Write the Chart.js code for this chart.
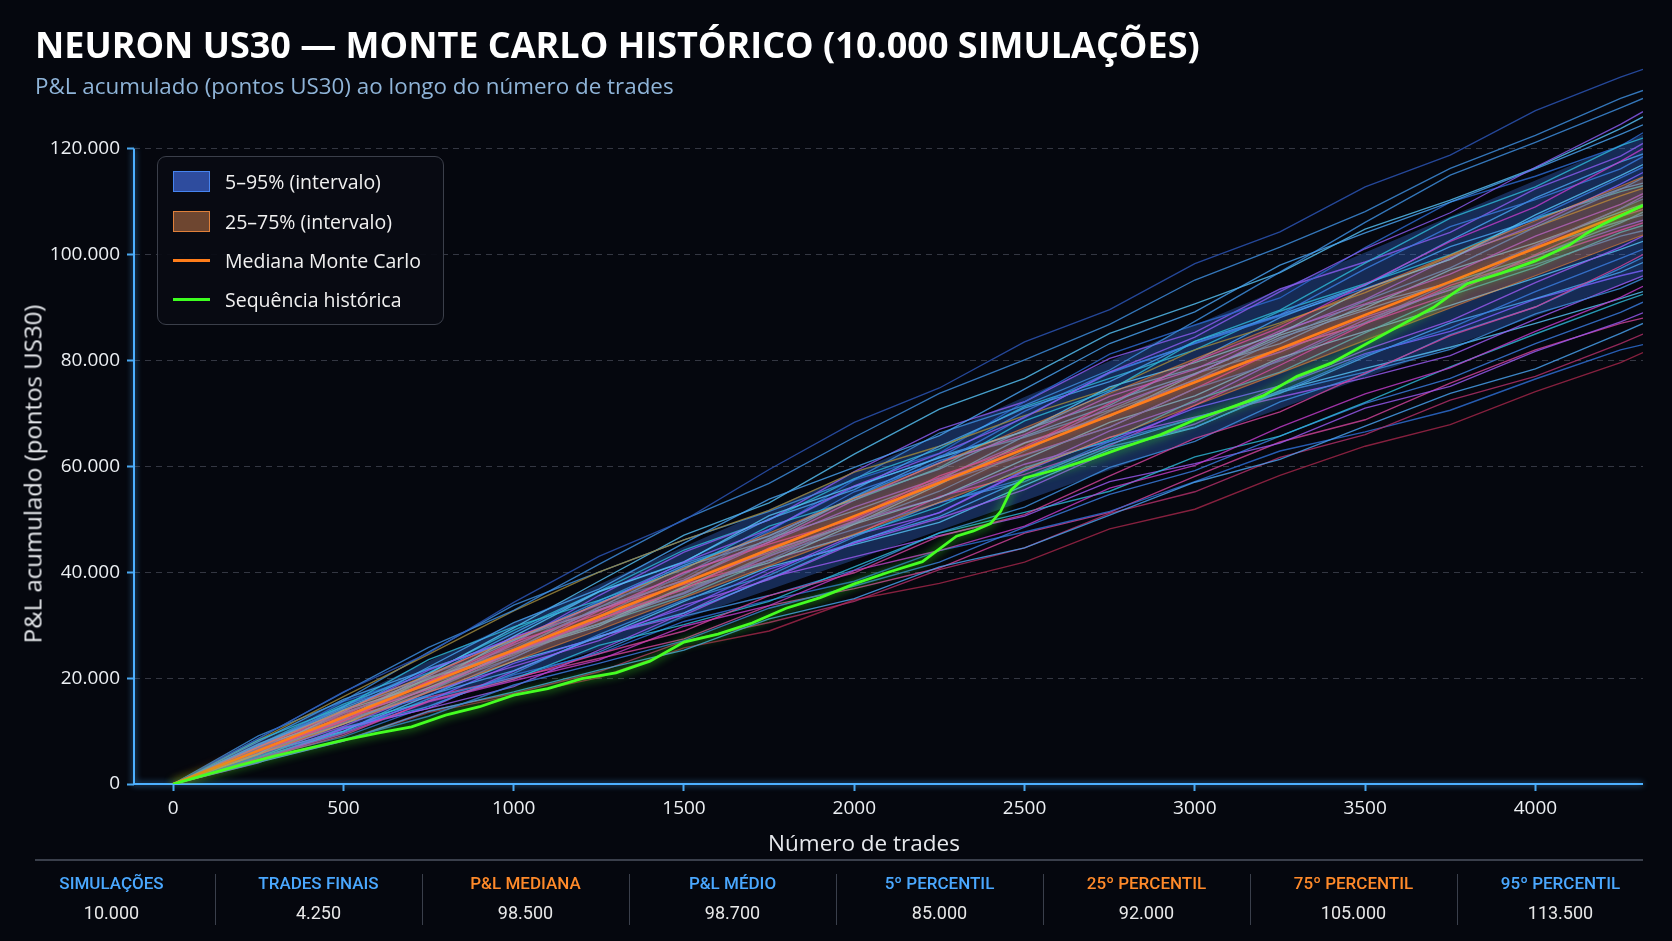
<!DOCTYPE html>
<html lang="pt-BR">
<head>
<meta charset="utf-8">
<title>Neuron US30 — Monte Carlo histórico</title>
<script src="https://cdn.jsdelivr.net/npm/chart.js@4.4.1/dist/chart.umd.min.js"></script>
<style>
  html, body { margin: 0; padding: 0; background: #05070e; }
  #wrap { position: relative; width: 1672px; height: 941px; overflow: hidden; background: #05070e;
          font-family: 'Open Sans', 'Noto Sans', sans-serif; }
  #chart { position: absolute; left: 0; top: 0; }
  #title { position: absolute; left: 35px; top: 23px; font-size: 36px; font-weight: 700; color: #fff;
           line-height: 44px; white-space: nowrap; }
  #subtitle { position: absolute; left: 35px; top: 71px; font-size: 22.4px; color: #8fb4d8; line-height: 30px; white-space: nowrap; }
  #ytitle { position: absolute; left: 32px; top: 474px; transform: translate(-50%, -50%) rotate(-90deg);
            font-size: 24px; color: #e6e8ec; white-space: nowrap; }
  #xtitle { position: absolute; left: 864px; top: 842px; transform: translate(-50%, -50%);
            font-size: 22.5px; color: #e6e8ec; white-space: nowrap; }
  #legend { position: absolute; left: 157px; top: 156px; width: 287px; height: 169px; box-sizing: border-box;
            border: 1px solid #3b3f4a; border-radius: 9px; background: rgba(9, 11, 19, 0.94); }
  .li { position: absolute; left: 15px; height: 22px; display: flex; align-items: center; font-size: 19.5px; color: #f0f0f0; white-space: nowrap; }
  .sw { width: 37px; height: 21px; box-sizing: border-box; margin-right: 15px; flex: none; }
  .ln { width: 37px; height: 3px; margin-right: 15px; flex: none; }
  #sep { position: absolute; left: 35px; top: 859px; width: 1608px; height: 2px; background: #3a3f4b; }
  .col { position: absolute; top: 868px; width: 207px; text-align: center; font-family: Roboto, 'Open Sans', sans-serif; }
  .lab { font-size: 17px; font-weight: 500; line-height: 30px; }
  .val { font-size: 18px; color: #e8e8e8; line-height: 30px; }
  .div { position: absolute; top: 874px; height: 51px; width: 1px; background: #3a3f4b; }
</style>
</head>
<body>
<div id="wrap">
  <canvas id="chart" width="1672" height="941"></canvas>
  <div id="title">NEURON US30 — MONTE CARLO HISTÓRICO (10.000 SIMULAÇÕES)</div>
  <div id="subtitle">P&amp;L acumulado (pontos US30) ao longo do número de trades</div>
  <div id="ytitle">P&amp;L acumulado (pontos US30)</div>
  <div id="xtitle">Número de trades</div>
  <div id="legend"></div>
  <div id="sep"></div>
  <div id="stats"></div>
</div>
<script>
// valores em milhares de pontos (k)
const trades = [0, 250, 500, 750, 1000, 1250, 1500, 1750, 2000, 2250, 2500, 2750, 3000, 3250, 3500, 3750, 4000, 4250, 4316];
const xTicks = [0, 500, 1000, 1500, 2000, 2500, 3000, 3500, 4000];
const yTicks = [0, 20000, 40000, 60000, 80000, 100000, 120000];

const mediana = [0, 6.3, 12.6, 19.0, 25.3, 31.6, 38.0, 44.3, 50.6, 56.9, 63.3, 69.6, 75.9, 82.2, 88.6, 94.9, 101.2, 107.5, 109.2];
const p25 = [0, 5.6, 11.3, 17.3, 23.2, 29.1, 35.2, 41.2, 47.2, 53.2, 59.3, 65.4, 71.5, 77.6, 83.8, 89.9, 96.0, 102.1, 103.7];
const p75 = [0, 7.0, 13.9, 20.7, 27.4, 34.1, 40.8, 47.4, 54.0, 60.6, 67.3, 73.8, 80.3, 86.8, 93.4, 99.9, 106.4, 112.9, 114.7];
const p05 = [0, 4.5, 9.4, 14.8, 20.2, 25.5, 31.2, 36.7, 42.3, 47.9, 53.5, 59.3, 65.1, 70.9, 76.8, 82.6, 88.4, 94.2, 95.7];
const p95 = [0, 8.1, 15.8, 23.2, 30.4, 37.7, 44.8, 51.9, 58.9, 65.9, 73.1, 79.9, 86.7, 93.5, 100.4, 107.2, 114.0, 120.8, 122.7];

const histTrades = [0, 100, 200, 300, 400, 500, 600, 700, 800, 900, 1000, 1100, 1200, 1300, 1400, 1500, 1600, 1700, 1800, 1900,
  2000, 2100, 2200, 2300, 2350, 2400, 2430, 2460, 2500, 2600, 2700, 2800, 2900, 3000, 3100, 3200, 3300, 3400, 3500, 3600,
  3700, 3750, 3800, 3900, 4000, 4100, 4150, 4200, 4316];
const historico = [0, 1.8, 3.6, 5.3, 6.8, 8.3, 9.6, 10.8, 13.0, 14.6, 16.8, 18.0, 19.9, 21.0, 23.2, 26.8, 28.3, 30.4, 33.2, 35.2,
  37.8, 40.0, 42.0, 46.8, 47.8, 49.2, 51.5, 55.5, 57.8, 59.5, 61.5, 63.8, 66.0, 68.8, 71.0, 73.3, 77.0, 79.5, 83.0, 86.5,
  90.0, 92.3, 94.5, 96.5, 98.8, 101.8, 104.0, 105.8, 109.3];

// amostra de trajetórias simuladas (mesmos pontos de "trades")
const mcPaths = [
  [0, 8.6, 17.4, 24.7, 34.3, 43.0, 49.8, 59.4, 68.3, 74.8, 83.5, 89.6, 98.3, 104.3, 112.8, 118.8, 127.2, 133.5, 135],
  [0, 8.6, 17.3, 25.8, 32.8, 41.5, 50.0, 56.8, 65.5, 73.8, 80.1, 86.8, 95.2, 101.4, 108.1, 116.3, 122.5, 129.5, 131],
  [0, 7.0, 13.6, 21.5, 27.6, 33.9, 41.9, 48.1, 56.3, 62.4, 69.2, 77.8, 84.4, 93.0, 101.1, 107.9, 116.5, 124.6, 127],
  [0, 7.6, 13.6, 22.1, 30.5, 36.8, 45.5, 53.8, 59.8, 65.8, 74.6, 83.2, 89.2, 98.0, 104.1, 109.9, 116.2, 122.7, 124.5],
  [0, 8.3, 14.6, 23.5, 29.7, 34.7, 40.6, 48.7, 53.6, 59.7, 68.6, 74.4, 83.6, 89.5, 98.4, 106.9, 112.8, 120.6, 122],
  [0, 6.1, 11.9, 19.5, 25.0, 31.1, 36.8, 44.6, 50.3, 58.2, 63.7, 71.9, 79.9, 86.2, 94.4, 102.5, 109.0, 117.6, 120],
  [0, 6.6, 14.8, 20.1, 25.4, 33.4, 38.3, 46.3, 55.2, 60.6, 69.4, 77.6, 83.3, 88.6, 97.3, 105.3, 110.4, 116.2, 118.5],
  [0, 5.7, 13.9, 18.9, 27.9, 36.3, 41.9, 50.7, 56.2, 61.6, 66.6, 75.0, 79.6, 85.1, 93.5, 99.1, 107.5, 114.9, 117],
  [0, 6.2, 12.2, 19.3, 24.8, 30.9, 38.2, 43.7, 49.7, 57.3, 63.4, 71.2, 77.3, 85.2, 91.5, 99.4, 105.6, 113.3, 115.5],
  [0, 5.8, 11.6, 17.5, 24.6, 30.3, 36.2, 43.4, 49.3, 55.3, 62.9, 70.4, 76.3, 84.0, 91.3, 97.5, 105.2, 112.3, 114.5],
  [0, 7.1, 14.4, 20.4, 28.5, 36.4, 42.0, 50.1, 55.6, 63.8, 71.0, 76.0, 83.6, 88.6, 94.3, 101.5, 106.6, 112.4, 113.5],
  [0, 8.3, 16.5, 24.5, 32.7, 40.0, 46.1, 51.7, 58.9, 63.8, 69.6, 74.7, 82.0, 87.1, 92.8, 99.7, 105.2, 111.1, 112.5],
  [0, 5.7, 12.6, 17.9, 24.9, 32.7, 39.9, 45.7, 53.6, 60.7, 66.0, 73.2, 78.3, 85.6, 90.7, 96.3, 103.5, 109.5, 111.5],
  [0, 6.1, 13.4, 18.8, 24.3, 31.5, 36.7, 42.3, 49.6, 56.9, 62.1, 67.4, 74.7, 79.9, 87.2, 94.7, 101.8, 108.7, 110.5],
  [0, 7.1, 12.5, 20.1, 24.8, 29.8, 37.1, 41.8, 49.1, 56.6, 64.4, 69.4, 77.4, 84.8, 89.9, 97.1, 102.2, 108.0, 109.5],
  [0, 6.5, 11.8, 19.3, 26.8, 32.1, 40.0, 45.3, 50.1, 57.6, 62.2, 67.4, 74.7, 82.2, 87.0, 92.5, 100.0, 107.2, 108.5],
  [0, 6.9, 14.1, 19.8, 27.1, 34.1, 41.3, 46.9, 54.0, 59.5, 66.9, 72.2, 77.5, 84.3, 89.5, 94.8, 101.4, 106.3, 107.5],
  [0, 6.6, 13.3, 19.1, 26.3, 32.9, 38.5, 45.7, 52.3, 57.8, 64.5, 69.7, 76.4, 81.6, 88.2, 93.3, 99.8, 105.2, 106.5],
  [0, 6.9, 12.5, 19.8, 25.3, 30.2, 35.5, 42.3, 47.0, 52.4, 59.7, 65.0, 72.5, 77.8, 85.2, 92.3, 97.6, 104.2, 105.5],
  [0, 7.3, 14.6, 21.8, 27.1, 34.6, 41.7, 46.8, 54.2, 61.1, 65.5, 70.6, 77.5, 82.1, 87.0, 93.8, 98.1, 103.5, 104.5],
  [0, 5.6, 10.9, 17.4, 22.2, 27.1, 33.8, 38.6, 45.5, 50.2, 55.6, 62.8, 68.0, 75.3, 82.0, 87.5, 94.7, 101.4, 103.5],
  [0, 6.2, 11.3, 18.2, 25.0, 30.2, 37.3, 44.1, 49.1, 54.1, 61.3, 68.3, 73.3, 80.5, 85.5, 90.4, 95.6, 101.0, 102.5],
  [0, 5.2, 11.9, 16.7, 23.9, 30.9, 35.9, 43.2, 48.1, 53.1, 57.7, 64.7, 69.1, 74.1, 81.0, 86.1, 93.0, 99.3, 101],
  [0, 4.7, 9.2, 15.7, 19.8, 24.6, 28.9, 35.6, 39.9, 46.8, 50.9, 58.2, 65.3, 70.3, 77.6, 84.7, 90.1, 97.8, 100],
  [0, 5.5, 12.1, 16.8, 21.4, 27.9, 32.3, 38.8, 45.8, 50.5, 57.6, 64.2, 69.1, 73.8, 80.7, 87.1, 91.7, 96.7, 98.5],
  [0, 6.2, 12.6, 17.9, 24.9, 31.2, 36.0, 43.0, 49.5, 54.1, 60.4, 64.7, 71.0, 75.2, 81.3, 85.5, 91.6, 96.0, 97],
  [0, 4.5, 10.7, 14.6, 20.9, 28.2, 34.8, 39.4, 46.7, 53.2, 57.1, 63.7, 67.4, 74.0, 77.8, 82.1, 88.8, 93.6, 95.5],
  [0, 4.9, 9.5, 15.5, 19.5, 23.4, 29.8, 33.7, 40.3, 44.1, 48.7, 55.9, 60.2, 67.4, 73.7, 78.6, 85.5, 91.9, 94],
  [0, 5.0, 11.4, 15.6, 19.8, 26.2, 30.1, 34.5, 41.0, 47.4, 51.3, 55.3, 61.8, 65.7, 72.1, 78.8, 85.0, 91.0, 92.5],
  [0, 4.3, 8.4, 12.8, 18.7, 22.8, 27.1, 33.2, 37.4, 41.9, 48.5, 54.7, 59.2, 65.7, 71.9, 76.6, 83.2, 89.1, 91],
  [0, 4.3, 10.6, 14.3, 21.3, 27.9, 31.9, 39.0, 42.9, 46.9, 50.6, 57.1, 60.5, 64.4, 71.0, 75.1, 81.7, 87.3, 89],
  [0, 4.1, 8.1, 13.7, 17.4, 21.5, 25.3, 31.2, 35.0, 41.0, 44.6, 50.8, 57.0, 61.3, 67.6, 73.8, 78.4, 85.1, 87],
  [0, 4.2, 8.2, 13.8, 17.1, 21.2, 27.0, 30.5, 34.5, 40.5, 44.6, 51.1, 55.2, 61.7, 66.0, 72.5, 77.0, 83.2, 85],
  [0, 5.0, 8.9, 14.7, 20.6, 24.6, 30.7, 34.7, 38.3, 44.1, 47.6, 51.5, 57.1, 62.9, 66.5, 70.6, 76.5, 82.0, 83],
  [0, 4.2, 8.1, 13.5, 16.7, 20.1, 25.7, 28.9, 34.8, 37.9, 41.9, 48.2, 51.9, 58.3, 63.8, 67.9, 74.1, 79.6, 81.5],
  [0, 9.1, 15.7, 24.9, 33.8, 40.0, 46.1, 51.5, 57.5, 66.3, 71.5, 78.2, 87.4, 96.7, 106.1, 115.0, 121.2, 127.7, 129.5],
  [0, 6.1, 12.2, 20.8, 29.5, 38.3, 47.0, 53.1, 62.3, 70.8, 76.6, 85.1, 90.7, 96.6, 104.8, 110.3, 116.4, 123.8, 126],
  [0, 6.7, 15.6, 20.8, 25.7, 34.4, 38.9, 47.7, 57.4, 62.5, 72.2, 81.2, 86.7, 91.8, 101.3, 109.9, 114.8, 120.5, 123],
  [0, 5.8, 13.5, 18.7, 26.6, 35.6, 43.8, 49.9, 59.0, 67.0, 72.2, 80.4, 85.3, 93.5, 98.6, 104.2, 112.4, 118.6, 121],
  [0, 8.0, 16.0, 21.7, 27.3, 32.9, 38.5, 46.4, 51.6, 57.4, 65.7, 71.5, 79.9, 88.1, 94.2, 102.7, 110.7, 117.5, 119],
  [0, 5.4, 12.9, 18.2, 23.8, 31.6, 39.6, 48.0, 56.1, 61.7, 70.4, 77.8, 83.2, 88.4, 93.6, 99.1, 107.0, 114.5, 116.5],
  [0, 7.4, 15.1, 21.0, 29.0, 36.4, 44.2, 49.9, 57.7, 63.3, 71.3, 76.6, 82.0, 89.3, 94.5, 100.0, 106.9, 111.9, 113],
  [0, 5.2, 10.4, 15.7, 22.8, 27.8, 33.2, 40.6, 45.6, 51.3, 59.3, 66.7, 72.2, 80.2, 87.7, 93.4, 101.6, 108.7, 111],
  [0, 5.0, 9.9, 17.6, 25.3, 33.3, 41.0, 46.0, 54.3, 61.9, 66.6, 74.1, 78.5, 83.2, 90.5, 94.7, 99.7, 106.0, 108],
  [0, 7.4, 12.9, 20.4, 27.8, 32.8, 37.7, 42.2, 47.0, 54.3, 58.5, 63.9, 71.5, 79.1, 86.9, 94.2, 99.2, 104.6, 106],
  [0, 5.0, 9.7, 16.1, 20.1, 24.9, 31.7, 35.6, 40.4, 47.5, 52.3, 59.8, 64.7, 72.2, 77.4, 84.9, 90.1, 97.4, 99.5],
  [0, 4.0, 10.4, 14.3, 18.4, 25.3, 32.3, 39.9, 47.0, 51.2, 59.1, 65.5, 69.3, 73.1, 76.7, 80.9, 87.8, 94.3, 96],
  [0, 5.8, 10.0, 16.7, 23.2, 27.6, 34.5, 41.0, 45.2, 49.4, 56.4, 63.2, 67.3, 74.3, 78.5, 82.5, 87.0, 91.7, 93],
  [0, 6.3, 12.6, 16.4, 20.1, 23.7, 27.4, 33.7, 36.9, 40.8, 47.4, 51.3, 58.1, 64.6, 68.8, 75.7, 82.0, 87.0, 88]
];
const pathColors = ['#2c56b8', '#3f8fe0', '#8a5cf0', '#4aa3f0', '#2fb8d8', '#c13cc9', '#3b7de0', '#56c2f5', '#7b61ff',
  '#3f8fe0', '#4aa3f0', '#a08a3c', '#9b59f0', '#3b7de0', '#56c2f5', '#c13cc9', '#4aa3f0', '#7b61ff', '#2fb8d8',
  '#3f8fe0', '#9b59f0', '#56c2f5', '#3b7de0', '#d2449a', '#4aa3f0', '#7b61ff', '#3f8fe0', '#c13cc9', '#2fb8d8',
  '#3b7de0', '#9b59f0', '#4aa3f0', '#b3306a', '#2f6fd6', '#a3264a',
  '#3f8fe0', '#56c2f5', '#2c6bd0', '#8a5cf0', '#4aa3f0', '#3b7de0', '#2fb8d8', '#7b61ff', '#4aa3f0', '#c13cc9',
  '#3f8fe0', '#9b59f0', '#56c2f5', '#d2449a'];

const statLabels = ['SIMULAÇÕES', 'TRADES FINAIS', 'P&L MEDIANA', 'P&L MÉDIO', '5º PERCENTIL', '25º PERCENTIL', '75º PERCENTIL', '95º PERCENTIL'];
const statValues = ['10.000', '4.250', '98.500', '98.700', '85.000', '92.000', '105.000', '113.500'];
const statTone = ['blue', 'blue', 'orange', 'blue', 'blue', 'orange', 'orange', 'blue'];

const K = 1000;
function pts(xs, ys) { return xs.map((x, i) => ({ x: x, y: ys[i] * K })); }
function fmt(v) { return String(v).replace(/\B(?=(\d{3})+(?!\d))/g, '.'); }

Chart.defaults.font.family = "'Open Sans', 'Noto Sans', sans-serif";

const datasets = [];
datasets.push({ label: 'Sequência histórica', data: pts(histTrades, historico), borderColor: '#45ff22', borderWidth: 2.8,
  glow: 'rgba(60,255,30,0.9)', order: 0 });
datasets.push({ label: 'Mediana Monte Carlo', data: pts(trades, mediana), borderColor: '#ff7d1a', borderWidth: 2.6,
  glow: 'rgba(255,110,0,0.9)', order: 1 });
datasets.push({ label: 'p25', data: pts(trades, p25), borderColor: 'rgba(255,140,50,0.55)', borderWidth: 1.2, order: 2 });
datasets.push({ label: '25–75% (intervalo)', data: pts(trades, p75), borderColor: 'rgba(255,140,50,0.55)', borderWidth: 1.2,
  fill: '-1', backgroundColor: 'rgba(255,130,50,0.27)', order: 2 });
mcPaths.forEach((p, i) => datasets.push({ label: 'sim' + i, data: pts(trades, p), borderColor: pathColors[i] + 'd0',
  borderWidth: 1.35, order: 3 }));
datasets.push({ label: 'p05', data: pts(trades, p05), borderWidth: 0, borderColor: 'rgba(0,0,0,0)', order: 4 });
datasets.push({ label: '5–95% (intervalo)', data: pts(trades, p95), borderWidth: 0, borderColor: 'rgba(0,0,0,0)',
  fill: '-1', backgroundColor: 'rgba(60,120,235,0.32)', order: 4 });

const glow = {
  id: 'glow',
  beforeDatasetDraw(chart, args) {
    const ds = chart.data.datasets[args.index];
    if (!ds.glow) return;
    chart.ctx.save();
    chart.ctx.shadowColor = ds.glow;
    chart.ctx.shadowBlur = 10;
  },
  afterDatasetDraw(chart, args) {
    if (chart.data.datasets[args.index].glow) chart.ctx.restore();
  }
};

const axisLines = {
  id: 'axisLines',
  beforeDatasetsDraw(chart) {
    const { ctx, chartArea: a, scales: { y } } = chart;
    ctx.save();
    ctx.strokeStyle = '#4db0ff';
    ctx.lineWidth = 2;
    ctx.shadowColor = 'rgba(77,176,255,0.8)';
    ctx.shadowBlur = 6;
    ctx.beginPath();
    ctx.moveTo(a.left, y.getPixelForValue(yTicks[yTicks.length - 1]));
    ctx.lineTo(a.left, a.bottom);
    ctx.lineTo(a.right, a.bottom);
    ctx.stroke();
    ctx.restore();
  }
};

new Chart(document.getElementById('chart'), {
  type: 'line',
  data: { datasets: datasets },
  plugins: [glow, axisLines],
  options: {
    responsive: false,
    animation: false,
    events: [],
    layout: { padding: { left: 0, right: 29, top: 64, bottom: 82 } },
    plugins: { legend: { display: false }, tooltip: { enabled: false } },
    elements: { point: { radius: 0 }, line: { tension: 0 } },
    scales: {
      x: {
        type: 'linear', min: -115, max: 4316,
        afterBuildTicks: s => { s.ticks = xTicks.map(v => ({ value: v })); },
        afterFit: s => { s.height = 75; },
        grid: { drawOnChartArea: false, drawTicks: true, tickLength: 7, tickColor: '#4aa8f0', tickWidth: 2 },
        border: { display: false },
        ticks: { color: '#eceff3', font: { size: 19 }, padding: 6, maxRotation: 0, autoSkip: false, callback: v => String(v) }
      },
      y: {
        type: 'linear', min: 0, max: 136000,
        afterBuildTicks: s => { s.ticks = yTicks.map(v => ({ value: v })); },
        afterFit: s => { s.width = 134; },
        grid: { color: 'rgba(110,116,130,0.45)', lineWidth: 1, drawTicks: true, tickLength: 7, tickColor: '#4aa8f0',
                tickWidth: 2, tickBorderDash: [] },
        border: { display: false, dash: [6, 5] },
        ticks: { color: '#eceff3', font: { size: 19 }, padding: 7, callback: v => fmt(v) }
      }
    }
  }
});

// legenda
const legendItems = [
  { label: '5–95% (intervalo)', kind: 'box', fill: '#2e4c9e', edge: '#4684f0' },
  { label: '25–75% (intervalo)', kind: 'box', fill: '#6e4630', edge: '#e0803a' },
  { label: 'Mediana Monte Carlo', kind: 'line', fill: '#ff7d1a' },
  { label: 'Sequência histórica', kind: 'line', fill: '#3dff1f' }
];
const legendTops = [13, 53, 92, 131];
const lg = document.getElementById('legend');
legendItems.forEach((it, i) => {
  const row = document.createElement('div');
  row.className = 'li';
  row.style.top = legendTops[i] + 'px';
  const sw = document.createElement('span');
  if (it.kind === 'box') {
    sw.className = 'sw';
    sw.style.background = it.fill;
    sw.style.border = '1.5px solid ' + it.edge;
  } else {
    sw.className = 'ln';
    sw.style.background = it.fill;
  }
  row.appendChild(sw);
  row.appendChild(document.createTextNode(it.label));
  lg.appendChild(row);
});

// faixa de estatísticas
const st = document.getElementById('stats');
const colW = 207, colX0 = 8;
statLabels.forEach((lab, i) => {
  const c = document.createElement('div');
  c.className = 'col';
  c.style.left = (colX0 + i * colW) + 'px';
  c.innerHTML = '<div class="lab" style="color:' + (statTone[i] === 'orange' ? '#ff8a2a' : '#4aa8ff') + '"></div><div class="val"></div>';
  c.querySelector('.lab').textContent = lab;
  c.querySelector('.val').textContent = statValues[i];
  st.appendChild(c);
  if (i > 0) {
    const d = document.createElement('div');
    d.className = 'div';
    d.style.left = (colX0 + i * colW) + 'px';
    st.appendChild(d);
  }
});
</script>
</body>
</html>
